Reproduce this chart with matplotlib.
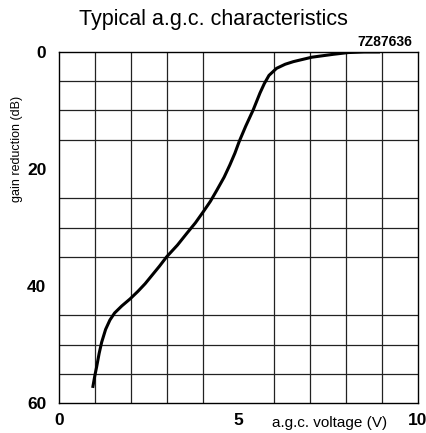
import matplotlib.pyplot as plt

plt.rcParams['font.family'] = ['Liberation Sans', 'DejaVu Sans']

# a.g.c. voltage (V) vs gain reduction (dB)
voltage = [0.94, 1.0, 1.05, 1.12, 1.19, 1.3, 1.42, 1.55, 1.75, 1.98, 2.2, 2.4,
           2.6, 2.8, 3.0, 3.3, 3.56, 3.8, 4.02, 4.22, 4.39, 4.6, 4.76, 4.9,
           5.02, 5.2, 5.41, 5.6, 5.72, 5.85, 6.06, 6.3, 6.53, 7.04, 7.64,
           8.06, 8.5, 8.94]
gain_red = [57.4, 55.3, 53.8, 51.5, 49.6, 47.4, 45.8, 44.6, 43.4, 42.2, 40.9, 39.6,
            38.1, 36.6, 35.0, 33.0, 31.0, 29.2, 27.3, 25.5, 23.7, 21.4, 19.3, 17.3,
            15.3, 12.7, 9.9, 7.0, 5.4, 4.0, 2.8, 2.1, 1.65, 0.9, 0.4,
            0.1, 0.0, 0.0]

x_ticks = [0, 5, 10]
y_ticks = [0, 20, 40, 60]

fig = plt.figure(figsize=(4.27, 4.33), dpi=100)
ax = fig.add_axes([0.138, 0.069, 0.841, 0.811])

ax.set_xlim(0, 10)
ax.set_ylim(60, 0)
ax.set_xticks(range(0, 11), minor=True)
ax.set_yticks(range(0, 61, 5), minor=True)
ax.grid(True, which='minor', color='#222222', lw=0.9)
ax.set_xticks(x_ticks)
ax.set_yticks(y_ticks)
ax.tick_params(which='both', length=0, labelsize=12.5)
ax.tick_params(axis='x', pad=7)
ax.tick_params(axis='y', pad=9)
for lbl in ax.get_xticklabels() + ax.get_yticklabels():
    lbl.set_fontweight('bold')
ax.set_axisbelow(True)
for s in ax.spines.values():
    s.set_linewidth(1.0)

ax.plot(voltage, gain_red, color='black', lw=2.2, solid_capstyle='butt')

fig.text(0.5, 0.956, 'Typical a.g.c. characteristics', ha='center', va='center', fontsize=15.5)
fig.text(0.966, 0.903, '7Z87636', ha='right', va='center', fontsize=10, fontweight='bold')
fig.text(0.04, 0.656, 'gain reduction (dB)', rotation=90, ha='center', va='center', fontsize=9)
fig.text(0.907, 0.023, 'a.g.c. voltage (V)', ha='right', va='center', fontsize=11)

fig.savefig('out.png', dpi=100)
